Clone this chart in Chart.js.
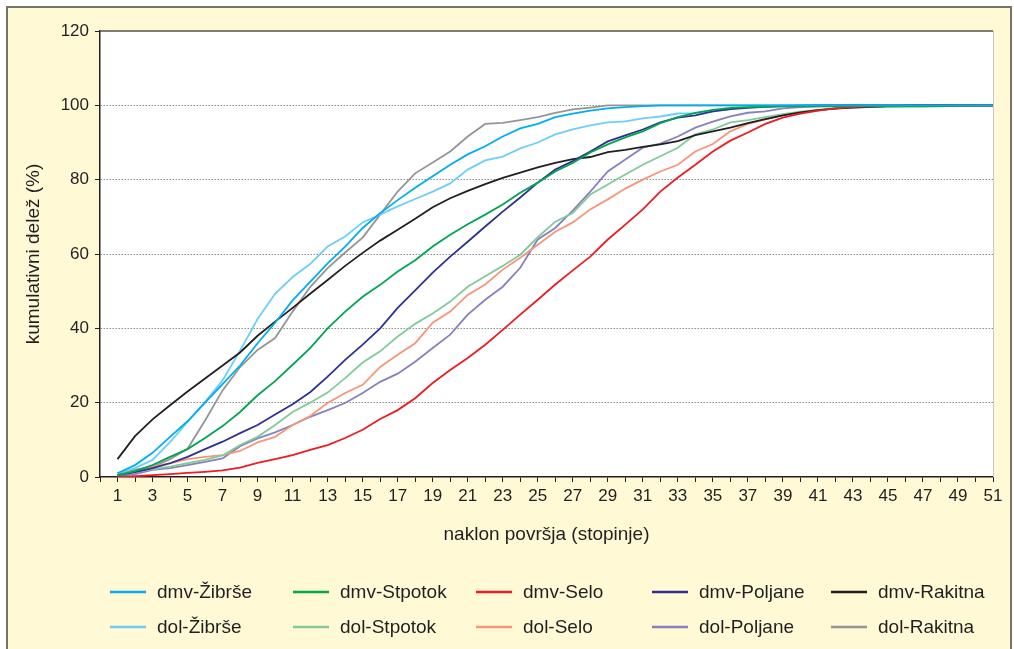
<!DOCTYPE html>
<html>
<head>
<meta charset="utf-8">
<script src="https://cdn.jsdelivr.net/npm/chart.js@4.4.0/dist/chart.umd.min.js"></script>
<style>
  html, body { margin: 0; padding: 0; background: #fff; }
  #wrap { position: relative; width: 1014px; height: 649px; }
</style>
</head>
<body>
<div id="wrap"><canvas id="chart" width="1014" height="649"></canvas></div>
<script>
// slope classes (degrees) on the x axis
const slopes = Array.from({ length: 51 }, (_, i) => i + 1);

// cumulative share (%) per slope class
const dmvZibrse = [1, 3.2, 6.5, 10.8, 15, 20, 25, 30, 36, 41.5, 47.5, 52.5, 57.5, 62, 67, 71, 74.5, 77.8, 80.9, 84,
  86.8, 89, 91.6, 93.8, 95, 96.8, 97.8, 98.6, 99.2, 99.5, 99.8, 100, 100, 100, 100, 100, 100, 100, 100, 100,
  100, 100, 100, 100, 100, 100, 100, 100, 100, 100, 100];
const dmvStpotok = [0.5, 1.6, 3.2, 5.4, 7.5, 10.5, 13.7, 17.5, 22, 25.8, 30.2, 34.7, 40, 44.5, 48.5, 51.7, 55.3, 58.3, 62, 65.2,
  68, 70.6, 73.3, 76.5, 79.2, 82.2, 84.5, 87.3, 89.5, 91.4, 93, 95.2, 96.8, 98, 98.8, 99.3, 99.5, 99.6, 99.7, 99.7,
  99.7, 99.7, 99.8, 99.8, 99.8, 99.8, 99.8, 99.8, 100, 100, 100];
const dmvSelo = [0, 0.2, 0.5, 0.8, 1.1, 1.4, 1.8, 2.5, 3.8, 4.8, 5.9, 7.3, 8.6, 10.5, 12.7, 15.6, 18, 21.2, 25.3, 28.8,
  32, 35.6, 39.6, 43.7, 47.7, 51.8, 55.6, 59.3, 63.9, 67.9, 72, 76.8, 80.6, 84, 87.6, 90.5, 92.7, 95, 96.7, 97.8,
  98.6, 99.2, 99.5, 99.7, 99.8, 99.8, 99.9, 100, 100, 100, 100];
const dmvPoljane = [0.5, 1.3, 2.4, 3.7, 5.4, 7.5, 9.5, 11.8, 14, 16.8, 19.6, 22.8, 27, 31.5, 35.6, 40, 45.5, 50.2, 55, 59.3,
  63.3, 67.4, 71.4, 75.2, 79.2, 82.7, 85, 87.6, 90.3, 91.9, 93.5, 95.4, 96.7, 97.3, 98.4, 99, 99.3, 99.6, 99.8, 99.9,
  100, 100, 100, 100, 100, 100, 100, 100, 100, 100, 100];
const dmvRakitna = [4.8, 11, 15.5, 19.3, 23, 26.5, 30, 33.5, 38, 41.8, 45.5, 49.3, 53, 56.8, 60.3, 63.6, 66.5, 69.5, 72.6, 75,
  77, 78.8, 80.5, 81.9, 83.3, 84.5, 85.5, 86.1, 87.4, 88, 88.8, 89.5, 90.4, 92, 93, 94, 95.2, 96.3, 97.3, 98.1,
  98.7, 99.1, 99.4, 99.6, 99.8, 99.9, 100, 100, 100, 100, 100];
const dolZibrse = [1, 2.4, 4.6, 9.4, 14.8, 20.2, 26, 34, 42.5, 49.3, 53.8, 57.3, 62, 64.7, 68.5, 70.6, 72.8, 74.8, 76.8, 79,
  82.7, 85.2, 86.2, 88.4, 90, 92.2, 93.5, 94.6, 95.4, 95.7, 96.5, 97, 97.8, 97.9, 98.4, 99, 99.5, 99.8, 100, 100,
  100, 100, 100, 100, 100, 100, 100, 100, 100, 100, 100];
const dolStpotok = [0.5, 1.4, 2.1, 2.8, 3.7, 4.6, 5.8, 8.6, 10.8, 14, 17.5, 20, 22.7, 26.6, 30.8, 33.8, 37.8, 41.2, 44, 47.2,
  51.2, 54, 56.8, 59.8, 64.5, 68.7, 71, 76, 78.7, 81.4, 84, 86.3, 88.6, 92.2, 93.5, 95.4, 96, 96.8, 97.6, 98.3,
  98.8, 99.2, 99.4, 99.5, 99.5, 99.6, 99.6, 99.7, 99.8, 100, 100];
const dolSelo = [0.5, 1.5, 2.8, 3.7, 4.8, 5.4, 5.9, 7, 9.3, 10.8, 14, 16.4, 19.9, 22.6, 24.8, 29.6, 32.9, 36, 41.5, 44.5,
  49, 51.8, 55.8, 59, 62.5, 66, 68.5, 72, 74.7, 77.6, 80, 82.2, 84, 87.6, 89.6, 93, 95, 96.2, 97.3, 98,
  98.6, 99.3, 99.6, 99.8, 100, 100, 100, 100, 100, 100, 100];
const dolPoljane = [0.3, 0.8, 1.9, 2.4, 3.2, 4.1, 5, 8.3, 10.4, 12, 14, 16.2, 18, 19.9, 22.6, 25.6, 27.8, 31, 34.7, 38.3,
  43.7, 47.7, 51.2, 56.3, 63.9, 67, 71.7, 76.8, 82.2, 85.4, 88.6, 89.7, 91.6, 94, 95.6, 97, 98, 98.4, 99.2, 99.5,
  99.7, 99.9, 100, 100, 100, 100, 100, 100, 100, 100, 100];
const dolRakitna = [1, 2, 2.7, 4.8, 7.6, 15.2, 23.3, 29.6, 34.2, 37.4, 44.5, 51.1, 56.2, 60.4, 64.4, 70.6, 76.8, 81.7, 84.6, 87.6,
  91.6, 95, 95.3, 96, 96.8, 98, 98.9, 99.4, 100, 100, 100, 100, 100, 100, 100, 100, 100, 100, 100, 100,
  100, 100, 100, 100, 100, 100, 100, 100, 100, 100, 100];

const seriesNames = ['dmv-Žibrše', 'dmv-Stpotok', 'dmv-Selo', 'dmv-Poljane', 'dmv-Rakitna',
  'dol-Žibrše', 'dol-Stpotok', 'dol-Selo', 'dol-Poljane', 'dol-Rakitna'];
const seriesValues = [dmvZibrse, dmvStpotok, dmvSelo, dmvPoljane, dmvRakitna,
  dolZibrse, dolStpotok, dolSelo, dolPoljane, dolRakitna];
const seriesColors = ['#00aeef', '#00a651', '#ed1c24', '#2e3192', '#231f20',
  '#6dcff6', '#82ca9c', '#f69679', '#8781bd', '#959595'];

const yTicks = [0, 20, 40, 60, 80, 100, 120];

const FONT = "'Liberation Sans', Arial, sans-serif";
const INK = '#231f20';

// yellow frame + white plot area
const framePlugin = {
  id: 'frame',
  beforeDraw(chart) {
    const { ctx, chartArea } = chart;
    ctx.save();
    ctx.fillStyle = '#ffffff';
    ctx.fillRect(0, 0, chart.width, chart.height);
    ctx.fillStyle = '#fff9d5';
    ctx.fillRect(7, 7, 1004, 660);
    ctx.strokeStyle = '#77736a';
    ctx.lineWidth = 2;
    ctx.strokeRect(7, 7, 1004, 660);
    ctx.fillStyle = '#ffffff';
    ctx.fillRect(chartArea.left, chartArea.top, chartArea.right - chartArea.left, chartArea.bottom - chartArea.top);
    ctx.restore();
  },
  afterDraw(chart) {
    const { ctx, chartArea } = chart;
    ctx.save();
    ctx.strokeStyle = '#55524c';
    ctx.lineWidth = 1.5;
    ctx.beginPath();
    ctx.moveTo(chartArea.left, chartArea.top);
    ctx.lineTo(chartArea.right, chartArea.top);
    ctx.stroke();
    ctx.strokeStyle = '#c8c8c8';
    ctx.lineWidth = 1;
    ctx.beginPath();
    ctx.moveTo(chartArea.right + 0.5, chartArea.top);
    ctx.lineTo(chartArea.right + 0.5, chartArea.bottom);
    ctx.stroke();
    ctx.restore();
  }
};

// legend in fixed columns, 2 rows of 5
const legendPlugin = {
  id: 'gridLegend',
  afterDraw(chart) {
    const { ctx } = chart;
    const colX = [110, 293, 476, 652, 831];
    const rowY = [592, 627];
    ctx.save();
    ctx.font = '19px ' + FONT;
    ctx.textBaseline = 'middle';
    chart.data.datasets.forEach((ds, i) => {
      const x = colX[i % 5];
      const y = rowY[Math.floor(i / 5)];
      ctx.strokeStyle = ds.borderColor;
      ctx.lineWidth = 2.5;
      ctx.beginPath();
      ctx.moveTo(x, y);
      ctx.lineTo(x + 36, y);
      ctx.stroke();
      ctx.fillStyle = INK;
      ctx.fillText(ds.label, x + 47, y + 1);
    });
    ctx.restore();
  }
};

new Chart(document.getElementById('chart'), {
  type: 'line',
  data: {
    datasets: seriesNames.map((name, i) => ({
      label: name,
      data: slopes.map((s, j) => ({ x: s, y: seriesValues[i][j] })),
      borderColor: seriesColors[i],
      backgroundColor: seriesColors[i],
      borderWidth: 1.8,
      pointRadius: 0,
      tension: 0,
      fill: false
    }))
  },
  options: {
    responsive: false,
    animation: false,
    layout: { padding: { top: 31, right: 21, bottom: 92, left: 0 } },
    plugins: {
      legend: { display: false },
      tooltip: { enabled: false }
    },
    scales: {
      x: {
        type: 'linear',
        min: 0,
        max: 51,
        afterFit(scale) { scale.height = 80; },
        ticks: {
          stepSize: 1,
          autoSkip: false,
          maxRotation: 0,
          padding: 4,
          color: INK,
          font: { family: FONT, size: 17 },
          callback: (v) => (v % 2 === 1 ? String(v) : '')
        },
        grid: { drawOnChartArea: false, tickLength: 5, tickColor: INK },
        border: { color: INK, width: 1.5 },
        title: {
          display: true,
          text: 'naklon površja (stopinje)',
          color: INK,
          font: { family: FONT, size: 19 },
          padding: { top: 0, bottom: 11 }
        }
      },
      y: {
        min: 0,
        max: 120,
        afterFit(scale) { scale.width = 100; },
        afterBuildTicks(scale) { scale.ticks = yTicks.map(v => ({ value: v })); },
        ticks: {
          padding: 6,
          color: INK,
          font: { family: FONT, size: 17 }
        },
        grid: {
          color: (c) => (c.tick && (c.tick.value === 0 || c.tick.value === 120) ? 'rgba(0,0,0,0)' : '#8c8c8c'),
          lineWidth: 1,
          tickLength: 5,
          tickColor: INK,
          tickBorderDash: []
        },
        border: { color: INK, width: 1.5, dash: [1.5, 1.5] },
        title: {
          display: true,
          text: 'kumulativni delež (%)',
          color: INK,
          font: { family: FONT, size: 19 },
          padding: { top: 22, bottom: 0 }
        }
      }
    }
  },
  plugins: [framePlugin, legendPlugin]
});
</script>
</body>
</html>
